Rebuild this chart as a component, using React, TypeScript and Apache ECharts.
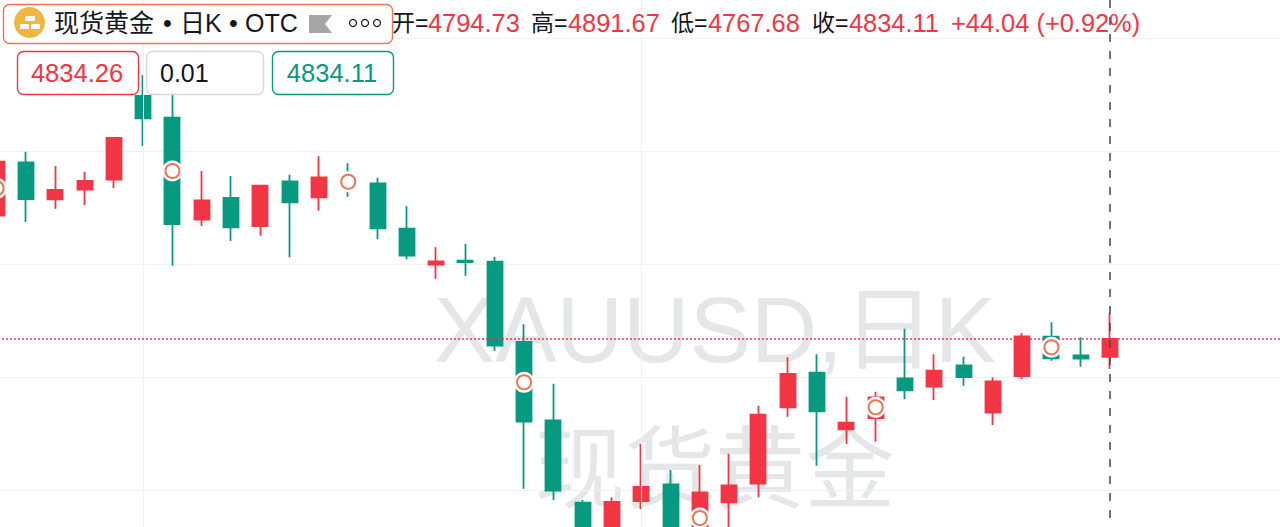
import React, { useEffect, useRef } from "react";
import * as echarts from "echarts";

// candle values, in the order open / close / low / high, one entry per day
const opens = [5107,5225,5143.1,5164.4,5186.5,5371.7,5323.7,5098,5146,5084.1,5183,5147.6,5190.3,5178.5,5078.1,4998.4,5007.3,5005.1,4827.4,4654.2,4471.9,4378.3,4475.7,4512.6,4411.5,4472.8,4514,4683,4759.5,4634.3,4659.3,4747.1,4728.5,4775.9,4671,4752.2,4839.2,4798,4794.73];
const closes = [5226.3,5143.8,5163.7,5183.6,5278.8,5322.4,5088.5,5140.9,5081.2,5173.2,5136.5,5191.8,5172.6,5079,5018.4,5006,5004.4,4819.3,4651.1,4498.4,4389.4,4473.4,4506.6,4400.4,4494.9,4510.4,4666.6,4756.6,4674.1,4648.9,4705.1,4720.6,4763.9,4750,4740.5,4840,4791.4,4790.5,4834.11];
const lows = [5090,5092.9,5122.3,5130.5,5167.5,5261.1,4996.2,5084.1,5050.9,5062.6,5014.8,5117.9,5148.9,5054.6,5010.4,4967.5,4974.1,4807.5,4502.9,4477.9,4356.2,4345,4457.3,4367.3,4378.3,4400.4,4483.8,4662.2,4553.8,4601.8,4606.9,4700.7,4699.1,4730.8,4643.8,4745.6,4786,4772.8,4767.68];
const highs = [5240,5248.4,5216.8,5204.2,5278.8,5418.1,5396,5205.8,5194.7,5173.2,5197.6,5238.3,5222.8,5190.9,5127.6,5037,5044.2,5016.1,4866.6,4735.2,4477.9,4483.8,4601.8,4544.2,4555.3,4580.3,4686.5,4793.6,4800.2,4706.4,4717.5,4856.9,4800.2,4794.9,4749.3,4846.7,4871,4837.8,4891.67];
const emptySlots = 6; // days to the right of the last candle
const categories = Array.from({ length: opens.length + emptySlots }, (_, i) => `D${i + 1}`);

const markerIndex = [0, 6, 12, 18, 24, 30, 36];
const markerPrice = [5167.5, 5205.7, 5182, 4738.3, 4438, 4683, 4815.8];
const verticalGridIndex = [5, 22];
const lastIndex = 38;
const lastClose = 4834.11;

const RED = "#f23645";
const GREEN = "#089981";
const BLACK = "#131722";
const FONT = "'Liberation Sans', 'Noto Sans CJK SC', sans-serif";

const ohlcLabels: [string, number][] = [["开=", 392], ["高=", 531], ["低=", 671], ["收=", 812]];
const ohlcValues: [string, number][] = [["4794.73", 428], ["4891.67", 568], ["4767.68", 708], ["4834.11", 849], ["+44.04 (+0.92%)", 951]];
const titleParts: [string, number][] = [["现货黄金", 54], ["•", 163], ["日K", 180], ["•", 229], ["OTC", 245]];

const label = (text: string, x: number, y: number, fill: string, fontSize = 25, align = "left"): any => ({
  type: "text", z: 100, style: { text, x, y, fill, fontSize, fontFamily: FONT, align, verticalAlign: "middle" },
});
const box = (x: number, y: number, width: number, height: number, stroke: string): any => ({
  type: "rect", z: 99, shape: { x: x + 0.5, y: y + 0.5, width, height, r: 6 },
  style: { fill: "#ffffff", stroke, lineWidth: 1.4 },
});

export default function App() {
  const ref = useRef<HTMLDivElement>(null);
  useEffect(() => {
    const chart = echarts.init(ref.current!, undefined, { renderer: "svg" });
    chart.setOption({
      animation: false,
      backgroundColor: "#ffffff",
      grid: { left: -18, top: -75, width: 1318.5, height: 678, outerBoundsMode: "none", containLabel: false },
      xAxis: {
        type: "category", data: categories, boundaryGap: true,
        axisLine: { show: false }, axisTick: { show: false }, axisLabel: { show: false }, splitLine: { show: false },
      },
      yAxis: {
        type: "value", min: 4250, max: 5750, interval: 250, scale: true,
        axisLine: { show: false }, axisTick: { show: false }, axisLabel: { show: false },
        splitLine: { show: true, lineStyle: { color: "#f0f1f3", width: 1 } },
      },
      graphic: [
        { type: "text", z: -1, style: { text: "XAUUSD,日K", x: 715, y: 330, fill: "#e5e6e8", fontSize: 92, fontFamily: FONT, align: "center", verticalAlign: "middle" } },
        { type: "text", z: -1, style: { text: "现货黄金", x: 715, y: 470, fill: "#e5e6e8", fontSize: 90, fontFamily: FONT, align: "center", verticalAlign: "middle" } },
        box(3, 4, 389, 39, "#f0744f"),
        { type: "circle", z: 100, shape: { cx: 29.5, cy: 22.5, r: 15.5 }, style: { fill: "#eeb742" } },
        { type: "rect", z: 101, shape: { x: 25, y: 16, width: 10, height: 5, r: 1 }, style: { fill: "#ffffff" } },
        { type: "rect", z: 101, shape: { x: 20, y: 24, width: 9, height: 5, r: 1 }, style: { fill: "#ffffff" } },
        { type: "rect", z: 101, shape: { x: 31, y: 24, width: 9, height: 5, r: 1 }, style: { fill: "#ffffff" } },
        ...titleParts.map(([t, x]) => label(t, x, 23, BLACK)),
        { type: "polygon", z: 100, shape: { points: [[309, 15], [332, 15], [325, 24], [332, 33], [309, 33]] }, style: { fill: "#a6a6a6" } },
        { type: "circle", z: 100, shape: { cx: 353, cy: 23, r: 3.5 }, style: { fill: "none", stroke: BLACK, lineWidth: 1.2 } },
        { type: "circle", z: 100, shape: { cx: 365, cy: 23, r: 3.5 }, style: { fill: "none", stroke: BLACK, lineWidth: 1.2 } },
        { type: "circle", z: 100, shape: { cx: 377, cy: 23, r: 3.5 }, style: { fill: "none", stroke: BLACK, lineWidth: 1.2 } },
        box(17, 51, 121, 43, RED),
        label("4834.26", 77, 73, RED, 25.5, "center"),
        box(146, 51, 117, 43, "#d5d8de"),
        label("0.01", 160, 73, BLACK),
        box(272, 51, 121, 43, GREEN),
        label("4834.11", 332, 73, GREEN, 25.5, "center"),
        ...ohlcLabels.map(([t, x]) => label(t, x, 23, BLACK, 23)),
        ...ohlcValues.map(([t, x]) => label(t, x, 23, RED, 25.4)),
      ],
      series: [
        {
          type: "line", data: [], z: 1, silent: true,
          markLine: {
            silent: true, symbol: "none", label: { show: false }, animation: false,
            lineStyle: { color: "#f0f1f3", width: 1, type: "solid" },
            data: verticalGridIndex.map((i) => ({ xAxis: categories[i] })),
          },
        },
        {
          type: "candlestick", z: 3, barWidth: 15.5,
          data: opens.map((o, i) => [o, closes[i], lows[i], highs[i]]),
          itemStyle: { color: RED, color0: GREEN, borderColor: RED, borderColor0: GREEN, borderWidth: 1.8 },
        },
        {
          type: "line", data: [], z: 4, silent: true,
          markLine: {
            silent: true, symbol: "none", label: { show: false }, animation: false,
            data: [
              { yAxis: lastClose, lineStyle: { color: RED, width: 1.5, type: [2, 2] } },
              { xAxis: categories[lastIndex], lineStyle: { color: "#434651", width: 1.5, type: [8, 9] } },
            ],
          },
        },
        {
          type: "scatter", z: 5, symbol: "circle", symbolSize: 21, silent: true,
          data: markerIndex.map((i, k) => [i, markerPrice[k]]),
          itemStyle: { color: "#ffffff", opacity: 1 },
        },
        {
          type: "scatter", z: 6, symbol: "circle", symbolSize: 14, silent: true,
          data: markerIndex.map((i, k) => [i, markerPrice[k]]),
          itemStyle: { color: "#ffffff", borderColor: "#f0744f", borderWidth: 2, opacity: 1 },
        },
      ],
    });
    return () => chart.dispose();
  }, []);
  return <div ref={ref} style={{ position: "absolute", left: 0, top: 0, width: 1280, height: 527 }} />;
}
